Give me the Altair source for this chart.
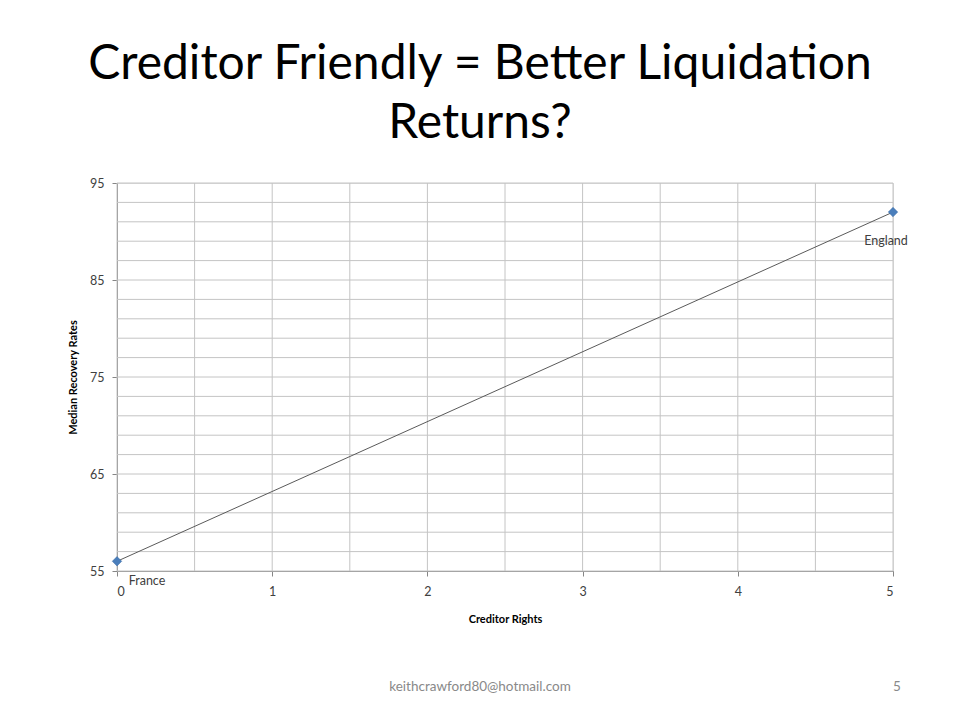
import altair as alt
import pandas as pd

countries = ["France", "England"]
creditor_rights = [0, 5]
recovery = [56, 92]

x_grid = [0, 0.5, 1, 1.5, 2, 2.5, 3, 3.5, 4, 4.5, 5]
y_grid = [55, 57, 59, 61, 63, 65, 67, 69, 71, 73, 75, 77, 79, 81, 83, 85, 87, 89, 91, 93, 95]
x_ticks = [0, 1, 2, 3, 4, 5]
y_ticks = [55, 65, 75, 85, 95]

title_lines = ["Creditor Friendly = Better Liquidation", "Returns?"]
footer_email = "keithcrawford80@hotmail.com"
footer_page = "5"

FONT = "Lato"
df = pd.DataFrame({"country": countries, "x": creditor_rights, "y": recovery})
gx = pd.DataFrame({"x": x_grid})
gy = pd.DataFrame({"y": y_grid})

xs = alt.Scale(domain=[0, 5], nice=False, zero=False)
ys = alt.Scale(domain=[55, 95], nice=False, zero=False)

grid_color = "#c4c4c4"

xaxis = alt.Axis(
    values=x_ticks, grid=False, title="Creditor Rights", format="d",
    labelFont=FONT, labelFontSize=12.5, labelColor="#404040", labelPadding=9,
    tickSize=5, tickColor="#868686", domainColor="#868686",
    titleFont=FONT, titleFontSize=11, titleFontWeight="bold", titleColor="#000000",
    titlePadding=16, orient="bottom",
)
yaxis = alt.Axis(
    values=y_ticks, grid=False, title="Median Recovery Rates", format="d",
    labelFont=FONT, labelFontSize=12.5, labelColor="#404040", labelPadding=8,
    tickSize=5, tickColor="#868686", domainColor="#868686",
    titleFont=FONT, titleFontSize=11, titleFontWeight="bold", titleColor="#000000",
    titlePadding=11, orient="left",
)

X = alt.X("x:Q", scale=xs, axis=xaxis)
Y = alt.Y("y:Q", scale=ys, axis=yaxis)

vgrid = alt.Chart(gx).mark_rule(color=grid_color, strokeWidth=1).encode(x=X)
hgrid = alt.Chart(gy).mark_rule(color=grid_color, strokeWidth=1).encode(y=Y)

line = alt.Chart(df).mark_line(color="#5a5a5a", strokeWidth=1).encode(x=X, y=Y)
points = alt.Chart(df).mark_point(
    shape="diamond", filled=True, color="#4a7ebb", size=90, opacity=1,
    stroke="#3a6aa5", strokeWidth=0.5,
).encode(x=X, y=Y)

lab_fr = alt.Chart(df).transform_filter(alt.datum.country == "France").mark_text(
    font=FONT, fontSize=12.5, color="#404040", dx=30, dy=20
).encode(x=X, y=Y, text="country:N")
lab_en = alt.Chart(df).transform_filter(alt.datum.country == "England").mark_text(
    font=FONT, fontSize=12.5, color="#404040", dx=-7, dy=29
).encode(x=X, y=Y, text="country:N")

foot = pd.DataFrame({"t": [footer_email], "p": [footer_page]})
foot_email = alt.Chart(foot).mark_text(
    font=FONT, fontSize=13.5, color="#898989", align="center", baseline="middle"
).encode(text="t:N", x=alt.value(363), y=alt.value(504))
foot_page = alt.Chart(foot).mark_text(
    font=FONT, fontSize=13.5, color="#898989", align="center", baseline="middle"
).encode(text="p:N", x=alt.value(780), y=alt.value(504))

chart = alt.layer(vgrid, hgrid, line, points, lab_fr, lab_en, foot_email, foot_page).properties(
    width=776, height=388,
    title=alt.TitleParams(
        text=title_lines, font=FONT, fontSize=48, fontWeight="normal", color="#000000",
        anchor="middle", dx=-25, offset=29, lineHeight=59,
    ),
    autosize=alt.AutoSizeParams(type="none"),
    padding={"left": 109, "top": 175, "right": 50, "bottom": 130},
).configure_view(stroke=None).configure(background="white")

chart.save("out.html", embed_options={"renderer": "svg", "actions": False})
